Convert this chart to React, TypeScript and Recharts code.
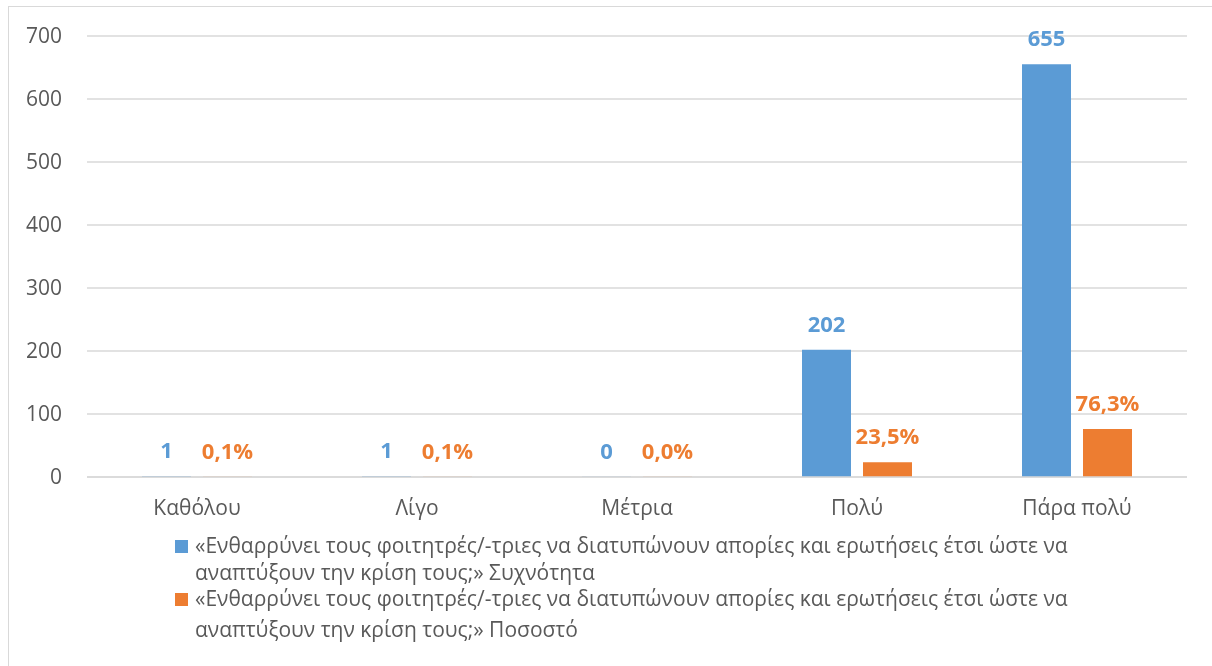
import React from 'react';
import { BarChart, Bar, XAxis, YAxis, CartesianGrid, LabelList } from 'recharts';

const categories = ['Καθόλου', 'Λίγο', 'Μέτρια', 'Πολύ', 'Πάρα πολύ'];
const frequency = [1, 1, 0, 202, 655];
const percentage = [0.1, 0.1, 0.0, 23.5, 76.3];
const yTicks = [0, 100, 200, 300, 400, 500, 600, 700];
const seriesNames = [
  '«Ενθαρρύνει τους φοιτητρές/-τριες να διατυπώνουν απορίες και ερωτήσεις έτσι ώστε να αναπτύξουν την κρίση τους;» Συχνότητα',
  '«Ενθαρρύνει τους φοιτητρές/-τριες να διατυπώνουν απορίες και ερωτήσεις έτσι ώστε να αναπτύξουν την κρίση τους;» Ποσοστό',
];
const colors = ['#5B9BD5', '#ED7D31'];

const data = categories.map((c, i) => ({ name: c, freq: frequency[i], pct: percentage[i] }));

const FONT = '"Open Sans", sans-serif';

function ChartLegend() {
  return (
    <div
      style={{
        position: 'fixed',
        left: 175,
        top: 532,
        width: 960,
        fontFamily: FONT,
        fontSize: 21,
        color: '#595959',
      }}
    >
      {seriesNames.map((n, i) => (
        <div key={i} style={{ display: 'flex', alignItems: 'flex-start', marginTop: i === 0 ? 0 : -3 }}>
          <div
            style={{
              width: 13,
              height: 13,
              background: colors[i],
              marginTop: i === 0 ? 8 : 10,
              marginRight: 7,
              flexShrink: 0,
            }}
          />
          <div style={{ lineHeight: i === 0 ? '27px' : '31px', width: 930 }}>{n}</div>
        </div>
      ))}
    </div>
  );
}

export default function App() {
  return (
    <div>
      <div
        style={{
          position: 'fixed',
          left: 8,
          top: 6,
          width: 1400,
          height: 900,
          border: '1px solid #d9d9d9',
          boxSizing: 'border-box',
        }}
      />
      <div style={{ position: 'fixed', left: 0, top: 0 }}>
        <BarChart
          width={1212}
          height={666}
          data={data}
          margin={{ top: 36, right: 25, left: 0, bottom: 149 }}
          barGap={12}
          barSize={49}
        >
          <CartesianGrid vertical={false} stroke="#d9d9d9" strokeWidth={1.5} />
          <XAxis
            dataKey="name"
            axisLine={{ stroke: '#d9d9d9', strokeWidth: 1.5 }}
            tickLine={false}
            tickSize={0}
            tickMargin={23}
            tick={{ fill: '#595959', fontSize: 21, fontFamily: FONT }}
            interval={0}
            height={40}
          />
          <YAxis
            domain={[0, 700]}
            ticks={yTicks}
            axisLine={false}
            tickLine={false}
            tickSize={0}
            tickMargin={25}
            width={87}
            tick={{ fill: '#595959', fontSize: 21, fontFamily: FONT }}
          />
          <Bar dataKey="freq" name={seriesNames[0]} fill={colors[0]} minPointSize={0.3} isAnimationActive={false}>
            <LabelList
              dataKey="freq"
              position="top"
              offset={18}
              fill={colors[0]}
              style={{ fontWeight: 700, fontSize: 22, fontFamily: FONT }}
            />
          </Bar>
          <Bar dataKey="pct" name={seriesNames[1]} fill={colors[1]} minPointSize={0.3} isAnimationActive={false}>
            <LabelList
              dataKey="pct"
              position="top"
              offset={18}
              fill={colors[1]}
              formatter={(v: any) => Number(v).toFixed(1).replace('.', ',') + '%'}
              style={{ fontWeight: 700, fontSize: 22, fontFamily: FONT }}
            />
          </Bar>
        </BarChart>
      </div>
      <ChartLegend />
    </div>
  );
}
